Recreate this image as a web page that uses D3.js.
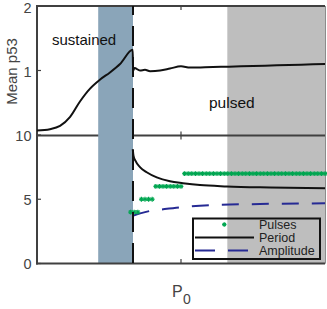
<!DOCTYPE html>
<html>
<head>
<meta charset="utf-8">
<script src="https://cdn.jsdelivr.net/npm/d3@7"></script>
<style>
  body { margin: 0; background: #fff; }
  text { font-family: "Liberation Sans", Arial, sans-serif; }
</style>
</head>
<body>
<svg id="chart" width="327" height="309"></svg>
<script>
// mean p53 vs P0 (top panel)
var p0Top   = [0, 0.54, 0.96, 1.38, 1.79, 2.21, 2.63, 3.04, 3.46, 3.99, 4.0, 4.06, 4.29, 4.5, 4.71, 5.13, 5.54, 6.0, 6.38, 7.0, 8.0, 9.0, 10.0, 11.0, 12.0];
var meanP53 = [0.07, 0.09, 0.14, 0.28, 0.52, 0.72, 0.86, 0.97, 1.1, 1.32, 0.99, 1.04, 1.0, 1.01, 0.99, 1.0, 1.03, 1.065, 1.045, 1.05, 1.06, 1.07, 1.08, 1.09, 1.10];

// period and amplitude (bottom panel)
var p0Period = [3.99, 4.02, 4.1, 4.29, 4.57, 4.99, 5.54, 6.08, 6.79, 7.92, 9.71, 12.0];
var period   = [8.9, 8.4, 8.0, 7.5, 7.1, 6.7, 6.4, 6.25, 6.1, 6.0, 5.92, 5.85];
var p0Amp     = [3.99, 4.3, 4.71, 5.26, 5.96, 7.42, 9.29, 12.0];
var amplitude = [3.72, 3.9, 4.09, 4.22, 4.37, 4.55, 4.63, 4.68];

// number of pulses per simulation
var p0Pulses = [3.9, 4.05, 4.2, 4.35, 4.5, 4.65, 4.8, 4.95, 5.1, 5.25, 5.4, 5.55, 5.7, 5.85, 6.0,
  6.15, 6.3, 6.45, 6.6, 6.75, 6.9, 7.05, 7.2, 7.35, 7.5, 7.65, 7.8, 7.95, 8.1, 8.25, 8.4, 8.55, 8.7,
  8.85, 9.0, 9.15, 9.3, 9.45, 9.6, 9.75, 9.9, 10.05, 10.2, 10.35, 10.5, 10.65, 10.8, 10.95, 11.1,
  11.25, 11.4, 11.55, 11.7, 11.85, 12.0];
var pulses = [4, 4, 4, 5, 5, 5, 5, 6, 6, 6, 6, 6, 6, 6, 6,
  7, 7, 7, 7, 7, 7, 7, 7, 7, 7, 7, 7, 7, 7, 7, 7, 7, 7,
  7, 7, 7, 7, 7, 7, 7, 7, 7, 7, 7, 7, 7, 7, 7, 7,
  7, 7, 7, 7, 7, 7];

var sustainedRange = [2.55, 4.0];
var pulsedRange = [7.93, 12.0];
var threshold = 4.0;
var xTicks = [6];
var topTicks = [1, 2];
var bottomTicks = [0, 5, 10];
var legendLabels = ["Pulses", "Period", "Amplitude"];

var svg = d3.select("#chart");
var axisColor = "#404040";
var green = "#00a651";
var navy = "#262a94";

var x = d3.scaleLinear().domain([0, 12]).range([37, 325]);
var yTop = d3.scaleLinear().domain([0, 2]).range([135, 6]);
var yBot = d3.scaleLinear().domain([0, 10]).range([263.5, 135]);

// shaded regimes
svg.append("rect")
  .attr("x", x(pulsedRange[0])).attr("y", 6)
  .attr("width", x(pulsedRange[1]) - x(pulsedRange[0]) + 1).attr("height", 257.5)
  .attr("fill", "#bebebe");

// line between panels (hidden under blue band)
svg.append("line")
  .attr("x1", 37).attr("x2", 325).attr("y1", 135.5).attr("y2", 135.5)
  .attr("stroke", axisColor).attr("stroke-width", 2);

svg.append("rect")
  .attr("x", x(sustainedRange[0])).attr("y", 7)
  .attr("width", x(sustainedRange[1]) - x(sustainedRange[0])).attr("height", 256)
  .attr("fill", "#8aa5b9");

// frame
svg.append("line").attr("x1", 36).attr("x2", 325).attr("y1", 6).attr("y2", 6)
  .attr("stroke", axisColor).attr("stroke-width", 2);
svg.append("line").attr("x1", 36).attr("x2", 325).attr("y1", 263.5).attr("y2", 263.5)
  .attr("stroke", axisColor).attr("stroke-width", 2);
svg.append("line").attr("x1", 37).attr("x2", 37).attr("y1", 5).attr("y2", 264.5)
  .attr("stroke", axisColor).attr("stroke-width", 2);
svg.append("line").attr("x1", 325.5).attr("x2", 325.5).attr("y1", 6).attr("y2", 263.5)
  .attr("stroke", "#8c8c8c").attr("stroke-width", 1);

// ticks
xTicks.forEach(function(t) {
  var px = x(t);
  [[6, 10], [131.5, 139.5], [259, 263.5]].forEach(function(seg) {
    svg.append("line").attr("x1", px).attr("x2", px).attr("y1", seg[0]).attr("y2", seg[1])
      .attr("stroke", axisColor).attr("stroke-width", 1.2);
  });
});

topTicks.forEach(function(t) {
  svg.append("line").attr("x1", 37).attr("x2", 41).attr("y1", yTop(t)).attr("y2", yTop(t))
    .attr("stroke", axisColor).attr("stroke-width", 1.2);
  svg.append("text").attr("x", 31.5).attr("y", Math.max(yTop(t) + 1, 8)).attr("dy", "0.35em")
    .attr("text-anchor", "end").attr("font-size", 14.5).attr("fill", "#444").text(t);
});
bottomTicks.forEach(function(t) {
  svg.append("line").attr("x1", 37).attr("x2", 41).attr("y1", yBot(t)).attr("y2", yBot(t))
    .attr("stroke", axisColor).attr("stroke-width", 1.2);
  svg.append("text").attr("x", 31.5).attr("y", yBot(t) + 0.5).attr("dy", "0.35em")
    .attr("text-anchor", "end").attr("font-size", 14.5).attr("fill", "#444").text(t);
});

// axis titles
svg.append("text")
  .attr("transform", "translate(17,71.5) rotate(-90)")
  .attr("text-anchor", "middle").attr("font-size", 15).attr("fill", "#444")
  .text("Mean p53");

var pLabel = svg.append("text").attr("x", 172).attr("y", 296.5).attr("font-size", 16).attr("fill", "#444");
pLabel.append("tspan").text("P");
pLabel.append("tspan").attr("x", 183).attr("y", 304).attr("font-size", 14).text("0");

// region labels
svg.append("text").attr("x", 52).attr("y", 45).attr("font-size", 15).attr("fill", "#111").text("sustained");
svg.append("text").attr("x", 209).attr("y", 107.5).attr("font-size", 15.5).attr("fill", "#111").text("pulsed");

// top curve
var topLine = d3.line()
  .x(function(d) { return x(d[0]); })
  .y(function(d) { return yTop(d[1]); })
  .curve(d3.curveMonotoneX);
svg.append("path")
  .datum(d3.zip(p0Top, meanP53))
  .attr("d", topLine)
  .attr("fill", "none").attr("stroke", "#111").attr("stroke-width", 2);

// bottom curves
var botLine = d3.line()
  .x(function(d) { return x(d[0]); })
  .y(function(d) { return yBot(d[1]); })
  .curve(d3.curveMonotoneX);

svg.append("path")
  .datum(d3.zip(p0Amp, amplitude))
  .attr("d", botLine)
  .attr("fill", "none").attr("stroke", navy).attr("stroke-width", 2)
  .attr("stroke-dasharray", "17,13");

svg.append("path")
  .datum(d3.zip(p0Period, period))
  .attr("d", botLine)
  .attr("fill", "none").attr("stroke", "#111").attr("stroke-width", 2);

// pulses markers (asterisks)
function star(g, cx, cy, r) {
  g.append("line").attr("x1", cx - r).attr("x2", cx + r).attr("y1", cy).attr("y2", cy);
  g.append("line").attr("x1", cx).attr("x2", cx).attr("y1", cy - r).attr("y2", cy + r);
  g.append("line").attr("x1", cx - r * 0.7).attr("x2", cx + r * 0.7).attr("y1", cy - r * 0.7).attr("y2", cy + r * 0.7);
  g.append("line").attr("x1", cx - r * 0.7).attr("x2", cx + r * 0.7).attr("y1", cy + r * 0.7).attr("y2", cy - r * 0.7);
}
var pulseG = svg.append("g").attr("stroke", green).attr("stroke-width", 1.2);
d3.zip(p0Pulses, pulses).forEach(function(d) {
  star(pulseG, x(d[0]), yBot(d[1]), 2.4);
});

// threshold dashed line (drawn bottom-up so a dash ends at the axis)
svg.append("line")
  .attr("x1", x(threshold)).attr("x2", x(threshold))
  .attr("y1", 263).attr("y2", 6)
  .attr("stroke", "#111").attr("stroke-width", 2)
  .attr("stroke-dasharray", "20,11");

// legend
var lg = svg.append("g");
lg.append("rect").attr("x", 193).attr("y", 218.5).attr("width", 127).attr("height", 40.5)
  .attr("fill", "none").attr("stroke", "#111").attr("stroke-width", 2);
var pg = lg.append("g").attr("stroke", green).attr("stroke-width", 1.2);
star(pg, 224.3, 224.5, 2.2);
lg.append("line").attr("x1", 195).attr("x2", 254).attr("y1", 237.5).attr("y2", 237.5)
  .attr("stroke", "#111").attr("stroke-width", 2);
lg.append("line").attr("x1", 195).attr("x2", 248).attr("y1", 250.5).attr("y2", 250.5)
  .attr("stroke", navy).attr("stroke-width", 2).attr("stroke-dasharray", "20,13");
var legendY = [229, 242, 254.5];
legendLabels.forEach(function(l, i) {
  lg.append("text").attr("x", 259).attr("y", legendY[i]).attr("font-size", 12.5)
    .attr("fill", "#222").text(l);
});
</script>
</body>
</html>
